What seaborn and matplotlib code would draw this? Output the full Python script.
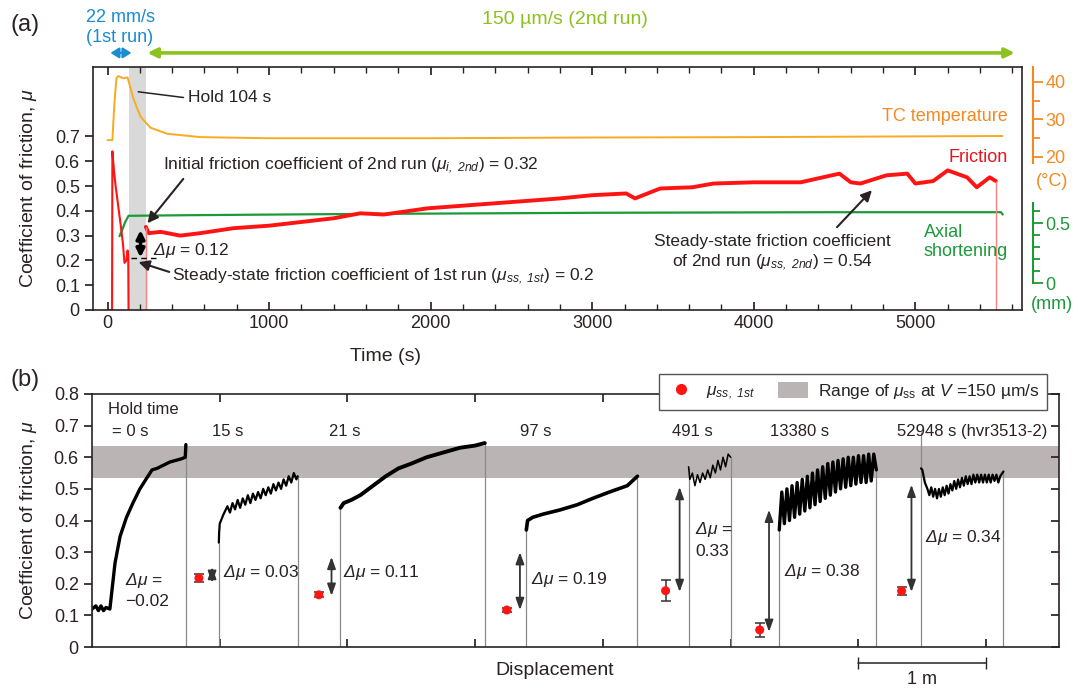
import pandas as pd
import seaborn as sns
import matplotlib.pyplot as plt
import matplotlib.transforms as mtransforms
from matplotlib.lines import Line2D
from matplotlib.patches import Patch

# ---------------- panel (a): values ----------------
# friction, 1st run (22 mm/s) incl. the drop to zero at the start of the hold
fric1_time = [0, 28, 30, 40, 50, 60, 70, 80, 95, 105, 117, 124, 128, 130]
fric1_mu = [0.0, 0.0, 0.64, 0.56, 0.50, 0.45, 0.40, 0.35, 0.27, 0.19, 0.20, 0.24, 0.22, 0.0]
# friction, 2nd run (150 um/s)
fric2_time = [237, 255, 330, 450, 575, 780, 1000, 1200, 1400, 1565, 1710, 1980,
              2390, 2800, 3000, 3210, 3265, 3420, 3620, 3750, 4000, 4290, 4530, 4600,
              4660, 4820, 4950, 5000, 5110, 5200, 5320, 5380, 5460, 5498]
fric2_mu = [0.335, 0.31, 0.315, 0.30, 0.31, 0.33, 0.34, 0.355, 0.37, 0.39, 0.385, 0.41,
            0.43, 0.45, 0.463, 0.47, 0.45, 0.49, 0.495, 0.51, 0.515, 0.515, 0.55, 0.515,
            0.51, 0.543, 0.55, 0.51, 0.52, 0.563, 0.535, 0.495, 0.535, 0.52]
# thermocouple temperature (deg C)
temp_time = [0, 30, 42, 55, 66, 96, 124, 142, 163, 205, 266, 369, 575, 1000, 2000,
             3000, 4000, 5000, 5540]
temp_c = [24.5, 24.5, 34.0, 41.0, 41.6, 41.0, 41.2, 38.4, 35.2, 30.7, 27.8, 26.2, 25.3,
          25.0, 25.0, 25.2, 25.3, 25.5, 25.6]
# axial shortening (mm)
short_time = [74, 90, 110, 130, 500, 1500, 3000, 4500, 5530, 5541]
short_mm = [0.39, 0.44, 0.51, 0.56, 0.565, 0.575, 0.585, 0.59, 0.59, 0.57]

hold_start, hold_end = 130, 235
time_ticks = [0, 1000, 2000, 3000, 4000, 5000]
mu_ticks_a = [0, 0.1, 0.2, 0.3, 0.4, 0.5, 0.6, 0.7]
mu_labels_a = ['0', '0.1', '0.2', '0.3', '0.4', '0.5', '0.6', '0.7']

# ---------------- panel (b): slide-hold-slide segments ----------------
seg1_disp = [0.0, 0.03, 0.05, 0.07, 0.09, 0.11, 0.14, 0.18, 0.22, 0.27, 0.32, 0.375,
             0.43, 0.47, 0.51, 0.61, 0.70, 0.73, 0.735]
seg1_mu = [0.12, 0.13, 0.115, 0.13, 0.115, 0.125, 0.12, 0.265, 0.35, 0.41, 0.455, 0.50,
           0.535, 0.56, 0.565, 0.585, 0.595, 0.60, 0.64]
seg2_disp = [0.993, 0.995, 1.00, 1.03, 1.06, 1.08, 1.10, 1.12, 1.14, 1.16, 1.18, 1.20,
             1.22, 1.24, 1.26, 1.28, 1.30, 1.32, 1.34, 1.36, 1.38, 1.40, 1.42, 1.44,
             1.46, 1.48, 1.50, 1.52, 1.54, 1.56, 1.58, 1.60, 1.61]
seg2_mu = [0.33, 0.36, 0.39, 0.42, 0.445, 0.425, 0.455, 0.435, 0.465, 0.44, 0.47, 0.45,
           0.48, 0.455, 0.485, 0.465, 0.49, 0.47, 0.50, 0.48, 0.505, 0.485, 0.515, 0.495,
           0.52, 0.50, 0.53, 0.51, 0.54, 0.52, 0.55, 0.53, 0.54]
seg3_disp = [1.945, 1.97, 2.03, 2.10, 2.20, 2.30, 2.40, 2.50, 2.62, 2.75, 2.88,
             3.00, 3.075]
seg3_mu = [0.44, 0.455, 0.465, 0.48, 0.51, 0.54, 0.565, 0.58, 0.60, 0.615, 0.63,
           0.637, 0.645]
seg4_disp = [3.40, 3.41, 3.45, 3.53, 3.66, 3.80, 3.92, 4.05, 4.19, 4.27]
seg4_mu = [0.37, 0.40, 0.41, 0.42, 0.433, 0.45, 0.47, 0.49, 0.51, 0.54]
seg5_disp = [4.67, 4.68, 4.70, 4.72, 4.74, 4.76, 4.78, 4.80, 4.82, 4.84, 4.86, 4.88,
             4.90, 4.92, 4.94, 4.96, 4.98, 5.00]
seg5_mu = [0.57, 0.53, 0.55, 0.51, 0.545, 0.52, 0.55, 0.53, 0.56, 0.535, 0.575, 0.55,
           0.59, 0.56, 0.60, 0.57, 0.61, 0.60]
seg6_disp = [5.38, 5.40, 5.42, 5.44, 5.46, 5.48, 5.50, 5.52, 5.54, 5.56, 5.58, 5.60,
             5.62, 5.64, 5.66, 5.68, 5.70, 5.72, 5.74, 5.76, 5.78, 5.80, 5.82, 5.84,
             5.86, 5.88, 5.90, 5.92, 5.94, 5.96, 5.98, 6.00, 6.02, 6.04, 6.06, 6.08,
             6.10, 6.12, 6.14]
seg6_mu = [0.37, 0.49, 0.39, 0.50, 0.40, 0.51, 0.41, 0.52, 0.42, 0.53, 0.43, 0.54,
           0.44, 0.55, 0.45, 0.56, 0.46, 0.57, 0.47, 0.58, 0.48, 0.585, 0.49, 0.59,
           0.50, 0.595, 0.505, 0.60, 0.51, 0.60, 0.515, 0.605, 0.52, 0.605, 0.52, 0.61,
           0.525, 0.61, 0.56]
seg7_disp = [6.49, 6.50, 6.52, 6.54, 6.555, 6.57, 6.585, 6.60, 6.615, 6.63, 6.645, 6.66,
             6.675, 6.69, 6.705, 6.72, 6.735, 6.75, 6.765, 6.78, 6.795, 6.81, 6.825, 6.84,
             6.855, 6.87, 6.885, 6.90, 6.915, 6.93, 6.945, 6.96, 6.975, 6.99, 7.005, 7.02,
             7.035, 7.05, 7.065, 7.08, 7.095, 7.11, 7.135]
seg7_mu = [0.565, 0.56, 0.52, 0.50, 0.48, 0.505, 0.475, 0.50, 0.47, 0.50, 0.475, 0.505,
           0.48, 0.51, 0.485, 0.515, 0.495, 0.525, 0.50, 0.53, 0.505, 0.535, 0.51, 0.54,
           0.515, 0.54, 0.515, 0.545, 0.52, 0.545, 0.52, 0.545, 0.52, 0.545, 0.52, 0.545,
           0.52, 0.545, 0.525, 0.545, 0.52, 0.54, 0.555]
segments = [(seg1_disp, seg1_mu, 2.4), (seg2_disp, seg2_mu, 1.6), (seg3_disp, seg3_mu, 2.8),
            (seg4_disp, seg4_mu, 2.6), (seg5_disp, seg5_mu, 1.1), (seg6_disp, seg6_mu, 2.4),
            (seg7_disp, seg7_mu, 1.6)]
seg7_line_top = 0.68

# mu_ss of the 1st run (red dots) with error bars
ss1_disp = [0.837, 1.776, 3.247, 4.49, 5.227, 6.338]
ss1_mu = [0.218, 0.165, 0.117, 0.178, 0.054, 0.177]
ss1_err = [0.014, 0.008, 0.007, 0.034, 0.021, 0.012]

mu_ss_band = (0.535, 0.635)
hold_labels = ['15 s', '21 s', '97 s', '491 s', '13380 s', '52948 s (hvr3513-2)']
hold_label_x = [1.06, 1.98, 3.47, 4.70, 5.54, 6.89]
dmu_labels = ['$Δμ$ =\n\u22120.02', '$Δμ$ = 0.03', '$Δμ$ = 0.11', '$Δμ$ = 0.19',
              '$Δμ$ =\n0.33', '$Δμ$ = 0.38', '$Δμ$ = 0.34']
dmu_label_pos = [(0.26, 0.18), (1.025, 0.234), (1.965, 0.237), (3.44, 0.215),
                 (4.72, 0.34), (5.42, 0.238), (6.52, 0.345)]
dmu_arrow_x = [0.94, 1.875, 3.35, 4.60, 5.30, 6.415]
dmu_arrow_top = [0.253, 0.285, 0.30, 0.506, 0.434, 0.513]
dmu_arrow_bot = [0.203, 0.162, 0.117, 0.174, 0.048, 0.174]
disp_ticks = [1, 2, 3, 4, 5, 6, 7]
mu_ticks_b = [0, 0.1, 0.2, 0.3, 0.4, 0.5, 0.6, 0.7, 0.8]
mu_labels_b = ['0', '0.1', '0.2', '0.3', '0.4', '0.5', '0.6', '0.7', '0.8']
scale_bar_m = [6, 7]

# ---------------- style ----------------
sns.set_theme(style='ticks')
plt.rcParams['font.family'] = ['Liberation Sans', 'DejaVu Sans']
plt.rcParams['mathtext.fontset'] = 'custom'
plt.rcParams['mathtext.rm'] = 'Liberation Sans:italic'
plt.rcParams['mathtext.it'] = 'Liberation Sans:italic'
plt.rcParams['mathtext.sf'] = 'Liberation Sans'
plt.rcParams['axes.linewidth'] = 1.2

INK = '#2a2222'
RED = '#ff1414'
ORANGE_LINE = '#f7aa22'
ORANGE = '#f28a24'
GREEN = '#1c9a3a'
BLUE = '#1a8ccf'
LIME = '#8cc21f'
BAND = '#bbb4b4'
FS = 13

W, H = 1084, 689
fig = plt.figure(figsize=(W / 100, H / 100), dpi=100)
ax_a = fig.add_axes([93 / W, 1 - 310 / H, 929 / W, 243 / H])
ax_t = ax_a.twinx()
ax_s = ax_a.twinx()
ax_b = fig.add_axes([92 / W, 1 - 647 / H, 967 / W, 253 / H])

# ---------------- panel (a) ----------------
ax_t.set_zorder(1)
ax_s.set_zorder(2)
ax_a.set_zorder(3)
ax_a.patch.set_visible(False)

ax_t.axvspan(hold_start, hold_end, color='#d9d9d9', lw=0, zorder=0)
sns.lineplot(x=temp_time, y=temp_c, ax=ax_t, color=ORANGE_LINE, lw=1.4,
             sort=False, estimator=None)
sns.lineplot(x=short_time, y=short_mm, ax=ax_s, color=GREEN, lw=1.6,
             sort=False, estimator=None)
sns.lineplot(x=fric1_time, y=fric1_mu, ax=ax_a, color=RED, lw=1.5,
             sort=False, estimator=None)
sns.lineplot(x=fric2_time, y=fric2_mu, ax=ax_a, color=RED, lw=2.8,
             sort=False, estimator=None)
# thin drops to zero at the start and end of the 2nd run
ax_a.vlines([fric2_time[0], fric2_time[-1]], 0, [fric2_mu[0], fric2_mu[-1]],
            color='#ff8080', lw=1.0)

ax_a.set_xlim(-90, 5660)
ax_a.set_ylim(0, 0.98)
ax_t.set_ylim(-20.8, 44)
ax_s.set_ylim(-0.225, 1.8)

ax_a.set_xticks(time_ticks)
ax_a.set_xticks(range(0, 5601, 200), minor=True)
ax_a.set_yticks(mu_ticks_a, mu_labels_a)
ax_a.tick_params(axis='x', which='both', direction='in', top=True, bottom=True,
                 labelsize=FS, colors=INK)
ax_a.tick_params(axis='x', which='major', length=6)
ax_a.tick_params(axis='x', which='minor', length=4)
ax_a.tick_params(axis='y', direction='out', length=6, right=False, labelsize=FS,
                 colors=INK)
ax_a.set_xlabel('Time (s)', fontsize=FS + 1, color=INK)
ax_a.xaxis.set_label_coords(0.315, -0.155)
ax_a.set_ylabel('Coefficient of friction, $\\mu$', fontsize=FS + 1, color=INK)
ax_a.yaxis.set_label_coords(-0.058, 0.5)
for sp in ax_a.spines.values():
    sp.set_color(INK)

for tw, col, bounds, major, minor, labs in [
        (ax_t, ORANGE, (18.3, 44), [20, 30, 40], [25, 35], ['20', '30', '40']),
        (ax_s, GREEN, (0, 0.67), [0, 0.5], [0.1, 0.2, 0.3, 0.4, 0.6], ['0', '0.5'])]:
    for side in ['left', 'top', 'bottom']:
        tw.spines[side].set_visible(False)
    tw.spines['right'].set_position(('outward', 8))
    tw.spines['right'].set_bounds(*bounds)
    tw.spines['right'].set_color(col)
    tw.spines['right'].set_linewidth(1.5)
    tw.set_yticks(major, labs)
    tw.set_yticks(minor, minor=True)
    tw.tick_params(axis='y', which='both', colors=col, labelsize=FS, width=1.3)
    tw.tick_params(axis='y', which='major', length=7, pad=2)
    tw.tick_params(axis='y', which='minor', length=5)
    tw.set_ylabel('')
    tw.set_xlabel('')

fig.text(1052 / W, 1 - 182 / H, '(°C)', color=ORANGE, fontsize=FS, ha='center', va='center')
fig.text(1052 / W, 1 - 305 / H, '(mm)', color=GREEN, fontsize=FS, ha='center', va='center')

# run-speed arrows above panel (a)
tr_a = mtransforms.blended_transform_factory(ax_a.transData, ax_a.transAxes)
ax_a.annotate('', xy=(18, 1.058), xytext=(148, 1.058), xycoords=tr_a, textcoords=tr_a,
              arrowprops=dict(arrowstyle='<|-|>,head_length=0.45,head_width=0.28',
                              color=BLUE, lw=1.6, mutation_scale=11,
                              shrinkA=0, shrinkB=0), annotation_clip=False)
ax_a.annotate('', xy=(247, 1.058), xytext=(5615, 1.058), xycoords=tr_a, textcoords=tr_a,
              arrowprops=dict(arrowstyle='<|-|>', color=LIME, lw=2.6, mutation_scale=14,
                              shrinkA=0, shrinkB=0), annotation_clip=False)
fig.text(120 / W, 1 - 18 / H, '22 mm/s', color=BLUE, fontsize=FS, ha='center', va='center')
fig.text(120 / W, 1 - 37 / H, '(1st run)', color=BLUE, fontsize=FS, ha='center', va='center')
fig.text(565 / W, 1 - 20 / H, '150 µm/s (2nd run)', color=LIME, fontsize=FS + 1,
         ha='center', va='center')
fig.text(25 / W, 1 - 25 / H, '(a)', color=INK, fontsize=17, ha='center', va='center')
fig.text(25 / W, 1 - 380 / H, '(b)', color=INK, fontsize=17, ha='center', va='center')

AFS = 12.5
ax_a.plot([190, 470], [0.88, 0.857], color=INK, lw=1.1)
ax_a.text(501, 0.857, 'Hold 104 s', fontsize=AFS, color=INK, va='center')
ax_a.annotate('Initial friction coefficient of 2nd run ($\\mu_{i,\\ 2nd}$) = 0.32',
              xy=(247, 0.35), xytext=(346, 0.583), fontsize=AFS, color=INK, va='center',
              arrowprops=dict(arrowstyle='-|>', color=INK, lw=1.5, mutation_scale=16,
                              shrinkA=0, shrinkB=0, relpos=(0.06, 0.0)))
ax_a.annotate('', xy=(204, 0.212), xytext=(204, 0.322),
              arrowprops=dict(arrowstyle='<|-|>', color='black', lw=2.6,
                              mutation_scale=12, shrinkA=0, shrinkB=0))
ax_a.plot([148, 309], [0.21, 0.21], color='black', lw=1.0, ls=(0, (4, 3)))
ax_a.text(284, 0.241, '$Δμ$ = 0.12', fontsize=AFS, color=INK, va='center')
ax_a.annotate('Steady-state friction coefficient of 1st run ($\\mu_{ss,\\ 1st}$) = 0.2',
              xy=(192, 0.193), xytext=(402, 0.133), fontsize=AFS, color=INK, va='center',
              arrowprops=dict(arrowstyle='-|>', color=INK, lw=1.5, mutation_scale=16,
                              shrinkA=0, shrinkB=0, relpos=(0.0, 0.7)))
ax_a.text(4113, 0.228, 'Steady-state friction coefficient\nof 2nd run ($\\mu_{ss,\\ 2nd}$) = 0.54',
          fontsize=AFS, color=INK, ha='center', va='center', linespacing=1.3)
ax_a.annotate('', xy=(4731, 0.483), xytext=(4515, 0.334),
              arrowprops=dict(arrowstyle='-|>', color=INK, lw=1.5, mutation_scale=16,
                              shrinkA=0, shrinkB=0))
ax_a.text(5572, 0.78, 'TC temperature', fontsize=FS, color=ORANGE, ha='right', va='center')
ax_a.text(5572, 0.615, 'Friction', fontsize=FS, color='#e8141c', ha='right', va='center')
ax_a.text(5572, 0.274, 'Axial\nshortening', fontsize=FS, color=GREEN, ha='right',
          va='center', multialignment='left', linespacing=1.1)

# ---------------- panel (b) ----------------
ax_b.axhspan(*mu_ss_band, color=BAND, lw=0, zorder=0)
for disp, mu, lw in segments:
    sns.lineplot(x=disp, y=mu, ax=ax_b, color='black', lw=lw, sort=False, estimator=None)
    ax_b.vlines([disp[0], disp[-1]], 0, [mu[0], mu[-1]], color='#8a8a8a', lw=0.9, zorder=1)
ax_b.vlines(seg7_disp[0], seg7_mu[0], seg7_line_top, color='#8a8a8a', lw=0.9, zorder=1)

ax_b.errorbar(ss1_disp, ss1_mu, yerr=ss1_err, fmt='none', ecolor='#333333', elinewidth=1.1,
              capsize=3.5, capthick=1.1, zorder=3)
sns.scatterplot(x=ss1_disp, y=ss1_mu, ax=ax_b, color=RED, s=42, edgecolor='none', zorder=4)

for x, top, bot in zip(dmu_arrow_x, dmu_arrow_top, dmu_arrow_bot):
    ax_b.annotate('', xy=(x, bot), xytext=(x, top),
                  arrowprops=dict(arrowstyle='<|-|>,head_length=0.5,head_width=0.18',
                                  color='#333333', lw=1.3, mutation_scale=14,
                                  shrinkA=0, shrinkB=0))
for lab, (x, y) in zip(dmu_labels, dmu_label_pos):
    ax_b.text(x, y, lab, fontsize=AFS, color=INK, va='center', ha='left', linespacing=1.35)

ax_b.text(0.125, 0.75, 'Hold time', fontsize=12, color=INK, va='center')
ax_b.text(0.157, 0.68, '= 0 s', fontsize=12, color=INK, va='center')
for lab, x in zip(hold_labels, hold_label_x):
    ax_b.text(x, 0.68, lab, fontsize=12, color=INK, va='center', ha='center')

ax_b.set_xlim(0, 7.57)
ax_b.set_ylim(0, 0.8)
ax_b.set_xticks(disp_ticks, [''] * len(disp_ticks))
ax_b.set_yticks(mu_ticks_b, mu_labels_b)
ax_b.tick_params(axis='x', direction='in', top=True, bottom=True, length=6, colors=INK)
ax_b.tick_params(axis='y', direction='out', length=6, labelsize=FS, colors=INK)
ax_b.tick_params(axis='y', which='major', right=True)
ax_b.set_xlabel('Displacement', fontsize=FS + 1, color=INK)
ax_b.xaxis.set_label_coords(0.478, -0.06)
ax_b.set_ylabel('Coefficient of friction, $\\mu$', fontsize=FS + 1, color=INK)
ax_b.yaxis.set_label_coords(-0.055, 0.5)
for sp in ax_b.spines.values():
    sp.set_color(INK)
# right ticks point inward
for tl in ax_b.yaxis.get_ticklines()[1::2]:
    tl.set_marker(0)

# scale bar
tr_b = mtransforms.blended_transform_factory(ax_b.transData, ax_b.transAxes)
ax_b.plot(scale_bar_m, [-0.063, -0.063], transform=tr_b, color=INK, lw=1.1,
          marker='|', markersize=8, clip_on=False)
ax_b.text(sum(scale_bar_m) / 2, -0.13, '1 m', transform=tr_b, fontsize=FS, color=INK,
          ha='center', va='center')

legend_handles = [Line2D([], [], marker='o', color=RED, ls='none', markersize=7),
                  Patch(facecolor=BAND, edgecolor='none')]
fig.legend(legend_handles,
           ['$\\mu_{ss,\\ 1st}$', 'Range of $\\mu_{\\mathsf{ss}}$ at $V$ =150 µm/s'],
           loc='center', bbox_to_anchor=(853 / W, 1 - 392 / H), ncol=2, fontsize=12.5,
           frameon=True, fancybox=False, edgecolor='#555555', framealpha=1,
           handlelength=1.7, handleheight=1.0, handletextpad=0.6, columnspacing=1.3,
           borderpad=0.45)

fig.savefig('out.png', dpi=100)
